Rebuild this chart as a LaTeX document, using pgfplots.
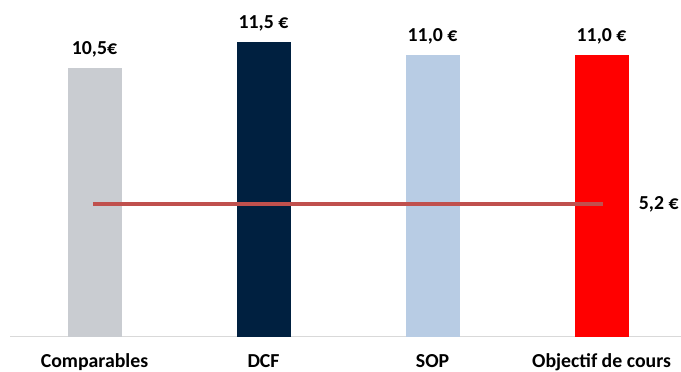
\documentclass[border=0pt]{standalone}
\usepackage{pgfplots}
\pgfplotsset{compat=1.18}
\usepackage{fontspec}
\setmainfont{Carlito}

\definecolor{barGray}{RGB}{201,204,209}
\definecolor{barNavy}{RGB}{0,32,64}
\definecolor{barBlue}{RGB}{184,204,228}
\definecolor{barRed}{RGB}{255,0,0}
\definecolor{lineRed}{RGB}{192,80,77}
\definecolor{axisGray}{RGB}{217,217,217}

\begin{document}
\begin{tikzpicture}[font=\fontsize{19.8}{23}\selectfont\bfseries]
\useasboundingbox (-10pt,-35.3pt) rectangle (671pt,336.7pt);
\begin{axis}[
  at={(0,0)}, anchor=south west,
  scale only axis,
  width=671pt, height=336.7pt,
  xmin=-0.5, xmax=3.47,
  ymin=0, ymax=13.15,
  hide y axis,
  axis x line*=bottom,
  x axis line style={draw=axisGray, line width=1pt},
  xtick={0,1,2,3},
  xticklabels={Comparables, DCF, SOP, Objectif de cours},
  major tick length=0pt,
  xticklabel style={anchor=base, yshift=-31pt, inner sep=0pt},
  ybar, bar width=54pt,
  clip=false,
  nodes near coords,
  every node near coord/.append style={anchor=base, yshift=13.5pt, inner sep=0pt, font=\fontsize{19.8}{23}\selectfont\bfseries, text=black},
]
\addplot[fill=barGray, draw=none, bar shift=0pt, nodes near coords={10,5€}] coordinates {(0,10.5)};
\addplot[fill=barNavy, draw=none, bar shift=0pt, nodes near coords={11,5 €}] coordinates {(1,11.5)};
\addplot[fill=barBlue, draw=none, bar shift=0pt, nodes near coords={11,0 €}] coordinates {(2,11.0)};
\addplot[fill=barRed, draw=none, bar shift=0pt, nodes near coords={11,0 €}] coordinates {(3,11.0)};
% target price reference line
\addplot[sharp plot, draw=lineRed, line width=4pt, nodes near coords={}, forget plot] coordinates {(-0.01,5.2) (3.01,5.2)};
\node[anchor=base west, inner sep=0pt] at ([yshift=-5.5pt]axis cs:3.22,5.2) {5,2 €};
\end{axis}
\end{tikzpicture}
\end{document}
